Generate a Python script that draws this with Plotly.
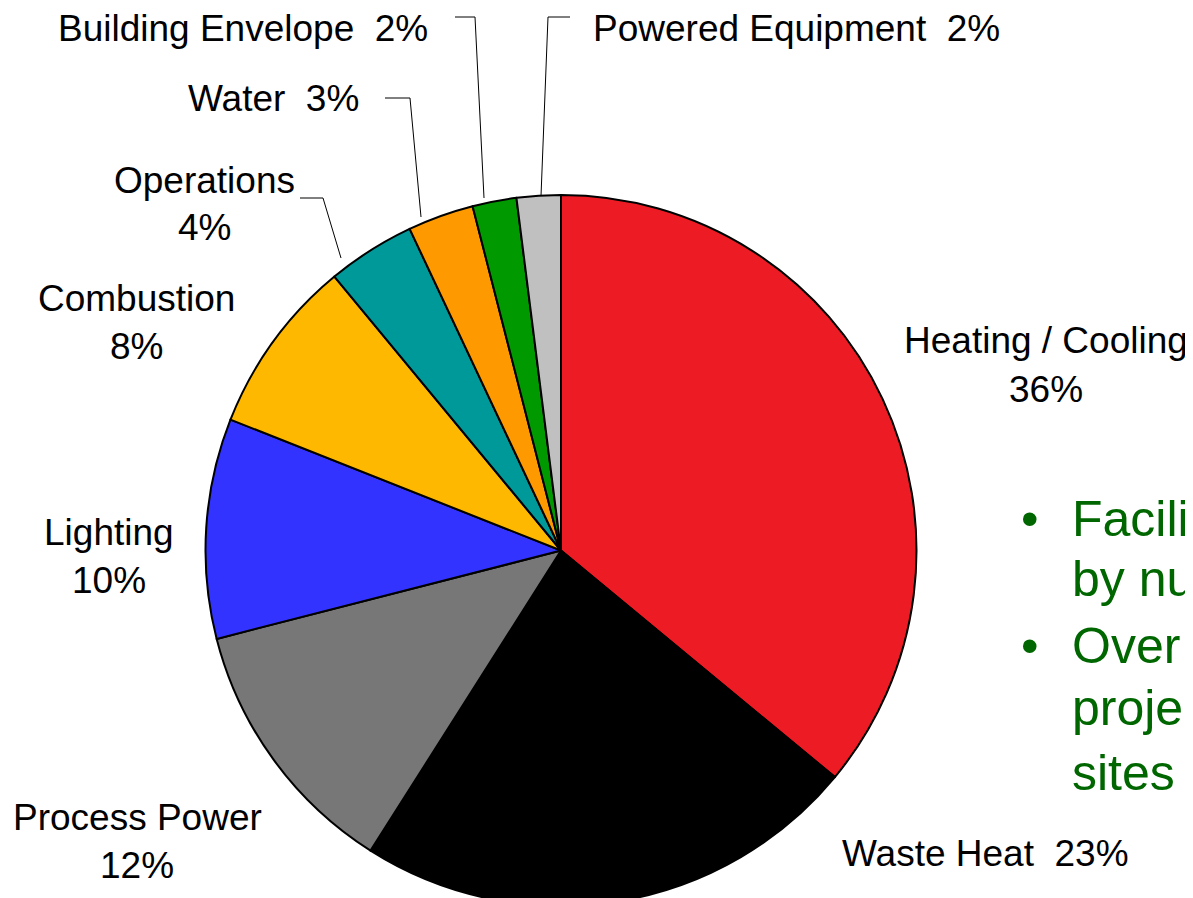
import plotly.graph_objects as go

# ---- data ----
categories = ["Heating / Cooling", "Waste Heat", "Process Power", "Lighting",
              "Combustion", "Operations", "Water", "Building Envelope",
              "Powered Equipment"]
shares = [36, 23, 12, 10, 8, 4, 3, 2, 2]
colors = ["#ED1C24", "#000000", "#777777", "#3333FF", "#FFB800",
          "#009999", "#FF9900", "#009900", "#C0C0C0"]
bullet_lines = [["Facilities ranked", "by number"], ["Over all", "projects at", "sites"]]

W, H = 1193, 898
OFF = 8  # page body margin
NB = "\u00a0"


def px(x):
    return (x - OFF) / W


def py(y):
    return 1 - (y - OFF) / H


CX, CY, R = 561, 551, 356
fig = go.Figure(go.Pie(
    labels=categories, values=shares, sort=False, direction="clockwise",
    rotation=0, textinfo="none", hoverinfo="label+percent",
    marker=dict(colors=colors, line=dict(color="#000000", width=2)),
    domain=dict(x=[px(CX - R), px(CX + R)], y=[max(0, py(CY + R)), py(CY - R)]),
    showlegend=False,
))

FONT = dict(family="Liberation Sans, Arial, sans-serif", size=37, color="#000000")
ann = []


def label(text, x, y, anchor="center"):
    ann.append(dict(text=text, x=px(x), y=py(y), xref="paper", yref="paper",
                    xanchor=anchor, yanchor="middle", showarrow=False, font=FONT))


pct = {c: f"{v}%" for c, v in zip(categories, shares)}
label(f"Building Envelope{NB}{NB}{pct['Building Envelope']}", 430, 28, "right")
label(f"Powered Equipment{NB}{NB}{pct['Powered Equipment']}", 591, 28, "left")
label(f"Water{NB}{NB}{pct['Water']}", 361, 99, "right")
label("Operations", 204, 180)
label(pct["Operations"], 204, 228)
label("Combustion", 136, 298)
label(pct["Combustion"], 136, 347)
label("Heating / Cooling", 1046, 340)
label(pct["Heating / Cooling"], 1046, 389)
label("Lighting", 109, 532)
label(pct["Lighting"], 109, 580)
label("Process Power", 137, 817)
label(pct["Process Power"], 137, 865)
label(f"Waste Heat{NB}{NB}{pct['Waste Heat']}", 840, 853, "left")

GFONT = dict(family="Liberation Sans, Arial, sans-serif", size=50, color="#006600")
ys = [[519, 579], [646, 708, 773]]
for lines, yl in zip(bullet_lines, ys):
    ann.append(dict(text="\u2022", x=px(1030), y=py(yl[0]), xref="paper", yref="paper",
                    xanchor="center", yanchor="middle", showarrow=False, font=GFONT))
    for t, yy in zip(lines, yl):
        ann.append(dict(text=t, x=px(1070), y=py(yy), xref="paper", yref="paper",
                        xanchor="left", yanchor="middle", showarrow=False, font=GFONT))

# leader lines
leaders = [
    [(455, 17), (475, 17), (484, 198)],
    [(570, 17), (548, 17), (541, 196)],
    [(385, 98), (410, 98), (421, 217)],
    [(300, 198), (323, 198), (341, 258)],
]
shapes = []
for pts in leaders:
    path = "M " + " L ".join(f"{px(a)} {py(b)}" for a, b in pts)
    shapes.append(dict(type="path", path=path, xref="paper", yref="paper",
                       line=dict(color="#000000", width=1)))

fig.update_layout(width=W, height=H, margin=dict(l=0, r=0, t=0, b=0),
                  paper_bgcolor="#FFFFFF", plot_bgcolor="#FFFFFF",
                  annotations=ann, shapes=shapes)
fig.write_html("out.html")
